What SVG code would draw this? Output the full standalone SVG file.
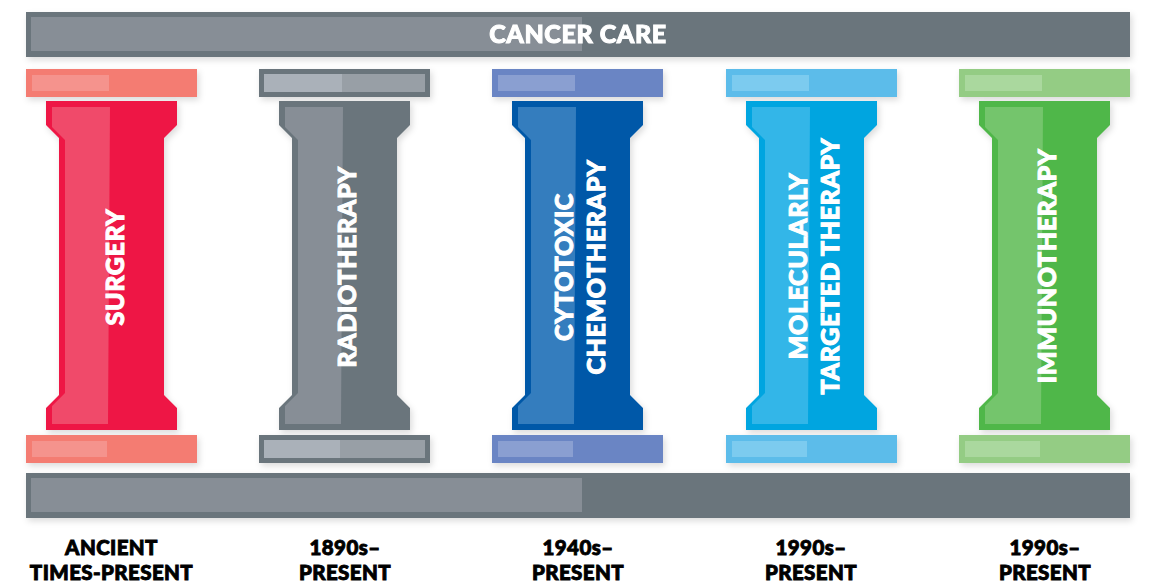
<svg xmlns="http://www.w3.org/2000/svg" xmlns:xlink="http://www.w3.org/1999/xlink" width="1149" height="587" viewBox="0 0 1149 587">
  <style>
    .bar-dark { fill: #6a757c; }
    .bar-light { fill: #878e96; }
    .title { font-family: Lato, "Liberation Sans", sans-serif; font-weight: 900; font-size: 25px; fill: #ffffff; stroke: #ffffff; stroke-width: 1px; letter-spacing: 0.6px; }
    .name { font-family: Lato, "Liberation Sans", sans-serif; font-weight: 900; font-size: 25px; fill: #ffffff; stroke: #ffffff; stroke-width: 1px; letter-spacing: 0.6px; }
    .era { font-family: Lato, "Liberation Sans", sans-serif; font-weight: 900; font-size: 20.5px; fill: #000000; stroke: #000000; stroke-width: 0.9px; letter-spacing: 0.4px; text-anchor: middle; }
    .red .cap { fill: #f47b72; } .red .cap-hi { fill: #f5938d; }
    .red .shaft { fill: #ee1845; } .red .shaft-hi { fill: #f04a6a; }
    .grey .cap { fill: #6a757c; } .grey .cap-in { fill: #989fa6; } .grey .cap-hi { fill: #aab1b9; }
    .grey .shaft { fill: #6a757c; } .grey .shaft-hi { fill: #878e96; }
    .blue .cap { fill: #6a85c4; } .blue .cap-hi { fill: #8a9fd1; }
    .blue .shaft { fill: #0058a8; } .blue .shaft-hi { fill: #347dbe; }
    .cyan .cap { fill: #5bbcea; } .cyan .cap-hi { fill: #7ccbef; }
    .cyan .shaft { fill: #00a5e0; } .cyan .shaft-hi { fill: #33b6e8; }
    .green .cap { fill: #94cc84; } .green .cap-hi { fill: #aad89e; }
    .green .shaft { fill: #50b748; } .green .shaft-hi { fill: #74c56c; }
  </style>
  <defs>
    <filter id="shadow" x="-10%" y="-20%" width="120%" height="150%">
      <feDropShadow dx="2" dy="3" stdDeviation="3" flood-color="#000000" flood-opacity="0.14"/>
    </filter>
    <!-- column shaft outline, x measured from the left edge of its capital -->
    <path id="shaft-shape" d="M20,101 H151 V125 L138,138 V395 L151,408 V430 H20 V408 L33,395 V138 L20,125 Z"/>
    <path id="shaft-gloss" d="M26,107 H84 L82,424 H26 V406 L39,393 V140 L26,127 Z"/>
  </defs>

  <!-- roof beam -->
  <g id="roof" filter="url(#shadow)">
    <rect class="bar-dark" x="26" y="12" width="1104" height="45"/>
    <rect class="bar-light" x="31" y="17" width="551" height="34"/>
    <text class="title" x="578" y="43" text-anchor="middle">CANCER CARE</text>
  </g>

  <!-- base beam -->
  <g id="base" filter="url(#shadow)">
    <rect class="bar-dark" x="26" y="473" width="1104" height="45"/>
    <rect class="bar-light" x="31" y="478" width="551" height="34"/>
  </g>

  <!-- surgery -->
  <g id="surgery" class="red" transform="translate(26,0)">
    <g filter="url(#shadow)">
      <rect class="cap" x="0" y="69" width="171" height="28"/>
      <rect class="cap" x="0" y="435" width="171" height="28"/>
      <use class="shaft" href="#shaft-shape" xlink:href="#shaft-shape"/>
    </g>
    <rect class="cap-hi" x="6" y="75" width="77" height="16"/>
    <rect class="cap-hi" x="6" y="441" width="75" height="16"/>
    <use class="shaft-hi" href="#shaft-gloss" xlink:href="#shaft-gloss"/>
    <text class="name" transform="translate(88,267) rotate(-90)" text-anchor="middle" dominant-baseline="central">SURGERY</text>
    <text class="era" x="85.5" y="555">ANCIENT</text>
    <text class="era" x="85.5" y="580">TIMES-PRESENT</text>
  </g>

  <!-- radiotherapy -->
  <g id="radiotherapy" class="grey" transform="translate(259,0)">
    <g filter="url(#shadow)">
      <rect class="cap" x="0" y="69" width="171" height="28"/>
      <rect class="cap" x="0" y="435" width="171" height="28"/>
      <use class="shaft" href="#shaft-shape" xlink:href="#shaft-shape"/>
    </g>
    <rect class="cap-in" x="5" y="74" width="161" height="18"/>
    <rect class="cap-hi" x="5" y="74" width="78" height="18"/>
    <rect class="cap-in" x="5" y="440" width="161" height="18"/>
    <rect class="cap-hi" x="5" y="440" width="76" height="18"/>
    <use class="shaft-hi" href="#shaft-gloss" xlink:href="#shaft-gloss"/>
    <text class="name" transform="translate(87,267) rotate(-90)" text-anchor="middle" dominant-baseline="central">RADIOTHERAPY</text>
    <text class="era" x="86" y="555">1890s–</text>
    <text class="era" x="86" y="580">PRESENT</text>
  </g>

  <!-- cytotoxic chemotherapy -->
  <g id="chemotherapy" class="blue" transform="translate(492,0)">
    <g filter="url(#shadow)">
      <rect class="cap" x="0" y="69" width="171" height="28"/>
      <rect class="cap" x="0" y="435" width="171" height="28"/>
      <use class="shaft" href="#shaft-shape" xlink:href="#shaft-shape"/>
    </g>
    <rect class="cap-hi" x="6" y="75" width="77" height="16"/>
    <rect class="cap-hi" x="6" y="441" width="75" height="16"/>
    <use class="shaft-hi" href="#shaft-gloss" xlink:href="#shaft-gloss"/>
    <text class="name" transform="translate(71,267) rotate(-90)" text-anchor="middle" dominant-baseline="central">CYTOTOXIC</text>
    <text class="name" transform="translate(103,267) rotate(-90)" text-anchor="middle" dominant-baseline="central">CHEMOTHERAPY</text>
    <text class="era" x="86" y="555">1940s–</text>
    <text class="era" x="86" y="580">PRESENT</text>
  </g>

  <!-- molecularly targeted therapy -->
  <g id="targeted-therapy" class="cyan" transform="translate(726,0)">
    <g filter="url(#shadow)">
      <rect class="cap" x="0" y="69" width="171" height="28"/>
      <rect class="cap" x="0" y="435" width="171" height="28"/>
      <use class="shaft" href="#shaft-shape" xlink:href="#shaft-shape"/>
    </g>
    <rect class="cap-hi" x="6" y="75" width="77" height="16"/>
    <rect class="cap-hi" x="6" y="441" width="75" height="16"/>
    <use class="shaft-hi" href="#shaft-gloss" xlink:href="#shaft-gloss"/>
    <text class="name" transform="translate(71,266) rotate(-90)" text-anchor="middle" dominant-baseline="central">MOLECULARLY</text>
    <text class="name" transform="translate(103,266) rotate(-90)" text-anchor="middle" dominant-baseline="central">TARGETED THERAPY</text>
    <text class="era" x="85" y="555">1990s–</text>
    <text class="era" x="85" y="580">PRESENT</text>
  </g>

  <!-- immunotherapy -->
  <g id="immunotherapy" class="green" transform="translate(959,0)">
    <g filter="url(#shadow)">
      <rect class="cap" x="0" y="69" width="171" height="28"/>
      <rect class="cap" x="0" y="435" width="171" height="28"/>
      <use class="shaft" href="#shaft-shape" xlink:href="#shaft-shape"/>
    </g>
    <rect class="cap-hi" x="6" y="75" width="77" height="16"/>
    <rect class="cap-hi" x="6" y="441" width="75" height="16"/>
    <use class="shaft-hi" href="#shaft-gloss" xlink:href="#shaft-gloss"/>
    <text class="name" transform="translate(87,266) rotate(-90)" text-anchor="middle" dominant-baseline="central">IMMUNOTHERAPY</text>
    <text class="era" x="86" y="555">1990s–</text>
    <text class="era" x="86" y="580">PRESENT</text>
  </g>
</svg>
